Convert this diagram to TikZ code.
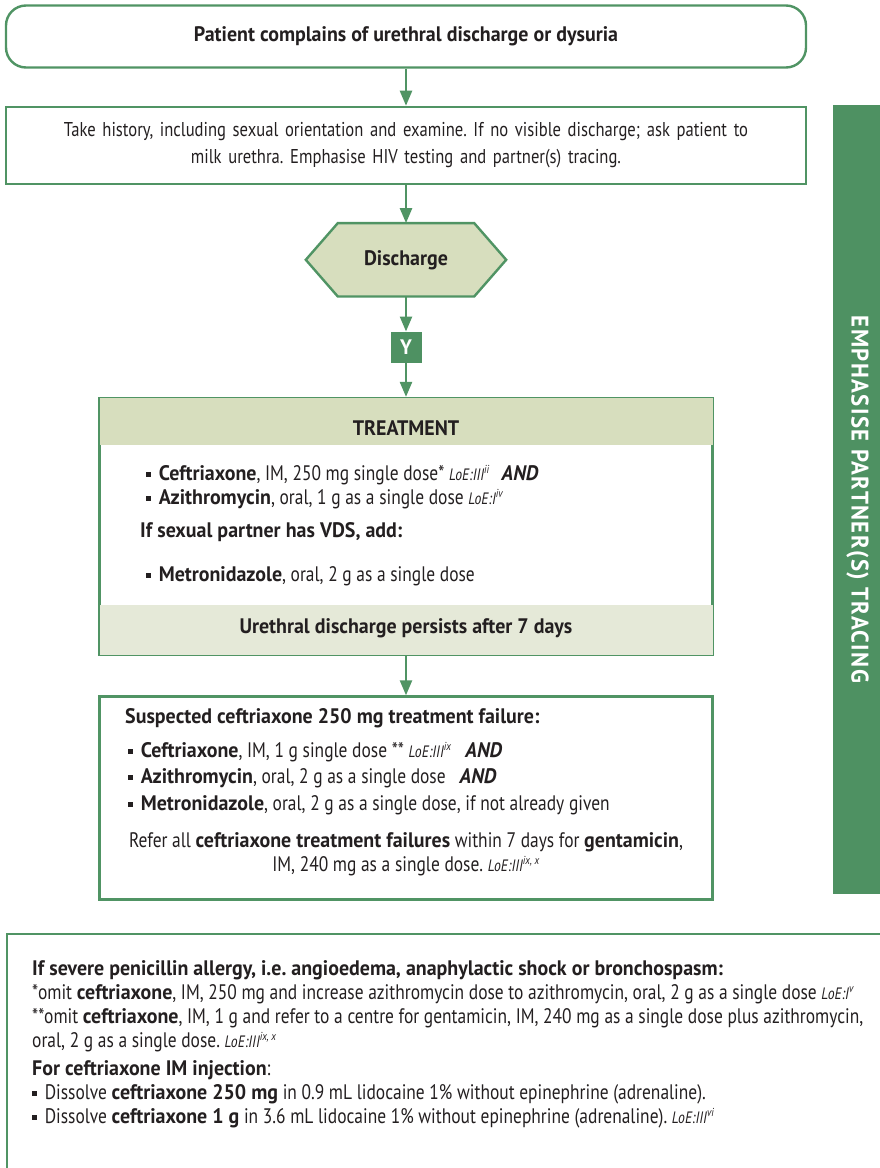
\documentclass[tikz,border=0pt]{standalone}
\usepackage{fontspec}
\setmainfont{PT Sans}[UprightFeatures={FakeStretch=0.83}, ItalicFeatures={FakeStretch=0.83}, BoldFeatures={FakeStretch=0.95}, BoldItalicFeatures={FakeStretch=0.95}]
\usetikzlibrary{positioning, calc, arrows.meta}

\definecolor{framegreen}{RGB}{80,148,100}
\definecolor{bargreen}{RGB}{78,145,98}
\definecolor{headfill}{RGB}{215,222,190}
\definecolor{footfill}{RGB}{229,233,216}
\definecolor{ink}{RGB}{35,31,32}

\newcommand{\bodyfont}{\fontsize{21}{26}\selectfont}
\newcommand{\loe}[2]{{\fontsize{16.5}{18}\selectfont\itshape LoE:#1\textsuperscript{#2}}}
\newcommand{\sqb}{\raisebox{0.3ex}{\rule{0.25em}{0.25em}}\hspace{0.35em}}
\newcommand{\bAND}{{\bfseries\itshape AND}}
\frenchspacing

\begin{document}
\begin{tikzpicture}[x=1pt, y=-1pt, font=\bodyfont,
  flowbox/.style={draw=framegreen, line width=2.4pt, inner sep=0pt, align=center, text=ink},
  txt/.style={anchor=west, inner sep=0pt, text height=15pt, text depth=5pt, text=ink},
  ctxt/.style={txt, anchor=center},
  flow/.style={draw=framegreen, line width=2.4pt, -{Triangle[width=12pt,length=15pt]}},
  ybox/.style={fill=bargreen, text=white, minimum size=31pt, inner sep=0pt, font=\bodyfont\bfseries}]

\useasboundingbox (0,0) rectangle (880,1168);
\clip (0,0) rectangle (880,1168);

% main flow
\node[flowbox, rounded corners=20pt, minimum width=800pt, minimum height=62pt, font=\bodyfont\bfseries] (complain) at (406,36.5) {Patient complains of urethral discharge or dysuria};
\node[flowbox, minimum width=800pt, minimum height=77pt, text width=780pt, below=37pt of complain, font=\fontsize{20}{27}\selectfont] (history) {Take history, including sexual orientation and examine. If no visible discharge; ask patient to\\ milk urethra. Emphasise HIV testing and partner(s) tracing.};
\node[minimum width=200pt, minimum height=73pt, inner sep=0pt, below=38pt of history] (disc) {};
\filldraw[draw=framegreen, fill=headfill, line width=2.4pt] (disc.west) -- ($(disc.north west)+(32,0)$) -- ($(disc.north east)+(-32,0)$) -- (disc.east) -- ($(disc.south east)+(-32,0)$) -- ($(disc.south west)+(32,0)$) -- cycle;
\node[font=\bodyfont\bfseries, text=ink] (disclabel) at (disc) {Discharge};
\node[ybox, below=35pt of disc] (yes) {Y};
\node[flowbox, minimum width=613pt, minimum height=257pt, below=34pt of yes] (treat) {};
\node[flowbox, minimum width=613pt, minimum height=203pt, below=39pt of treat] (fail) {};

\draw[flow] (complain) -- (history);
\draw[flow] (history) -- (disc);
\draw[flow] (disc) -- (yes);
\draw[flow] (yes) -- (treat);
\draw[flow] (treat) -- (fail);

% treatment box
\fill[headfill] ($(treat.north west)+(1.2,1.2)$) rectangle ($(treat.north east)+(-1.2,48)$);
\fill[footfill] ($(treat.south west)+(1.2,-51)$) rectangle ($(treat.south east)+(-1.2,-1.2)$);
\node[font=\bodyfont\bfseries, text=ink] (treathead) at ($(treat.north)+(0,31)$) {TREATMENT};
\node[font=\bodyfont\bfseries, text=ink] (persist) at ($(treat.south)+(0,-28)$) {Urethral discharge persists after 7 days};
\node[txt] (tr1) at (146,475) {\sqb\textbf{Ceftriaxone}, IM, 250 mg single dose* \loe{III}{ii}\hspace{12pt}\bAND};
\node[txt] (tr2) at (146,499) {\sqb\textbf{Azithromycin}, oral, 1 g as a single dose \loe{I}{iv}};
\node[txt, font=\bodyfont\bfseries] (tr3) at (140,532) {If sexual partner has VDS, add:};
\node[txt] (tr4) at (146,576) {\sqb\textbf{Metronidazole}, oral, 2 g as a single dose};

% failure box
\node[txt, font=\bodyfont\bfseries] (fl1) at (125,718) {Suspected ceftriaxone 250 mg treatment failure:};
\node[txt] (fl2) at (128,752) {\sqb\textbf{Ceftriaxone}, IM, 1 g single dose ** \loe{III}{ix}\hspace{14pt}\bAND};
\node[txt] (fl3) at (128,778) {\sqb\textbf{Azithromycin}, oral, 2 g as a single dose\hspace{14pt}\bAND};
\node[txt] (fl4) at (128,805) {\sqb\textbf{Metronidazole}, oral, 2 g as a single dose, if not already given};
\node[ctxt] (fl5) at (406,842) {Refer all \textbf{ceftriaxone treatment failures} within 7 days for \textbf{gentamicin},};
\node[ctxt] (fl6) at (406,866) {IM, 240 mg as a single dose. \loe{III}{ix, x}};

% side bar
\node[fill=bargreen, text=white, font=\fontsize{24}{28}\selectfont\bfseries\addfontfeature{LetterSpace=6}, rotate=-90, minimum width=789pt, minimum height=49pt, inner sep=0pt] (sidebar) at (857.5,499.5) {EMPHASISE PARTNER(S) TRACING};

% allergy notes
\node[draw=framegreen, line width=2.4pt, minimum width=884pt, minimum height=250pt, anchor=north west, inner sep=0pt] (allergy) at (6,933) {};
\node[txt, font=\bodyfont\bfseries] (al1) at (32,970) {If severe penicillin allergy, i.e. angioedema, anaphylactic shock or bronchospasm:};
\node[txt] (al2) at (32,994) {*omit \textbf{ceftriaxone}, IM, 250 mg and increase azithromycin dose to azithromycin, oral, 2 g as a single dose \loe{I}{v}};
\node[txt] (al3) at (32,1018) {**omit \textbf{ceftriaxone}, IM, 1 g and refer to a centre for gentamicin, IM, 240 mg as a single dose plus azithromycin,};
\node[txt] (al4) at (32,1042) {oral, 2 g as a single dose. \loe{III}{ix, x}};
\node[txt] (al5) at (32,1070) {\textbf{For ceftriaxone IM injection}:};
\node[txt] (al6) at (32,1094) {\sqb Dissolve \textbf{ceftriaxone 250 mg} in 0.9 mL lidocaine 1\% without epinephrine (adrenaline).};
\node[txt] (al7) at (32,1118) {\sqb Dissolve \textbf{ceftriaxone 1 g} in 3.6 mL lidocaine 1\% without epinephrine (adrenaline). \loe{III}{vi}};
\end{tikzpicture}
\end{document}
